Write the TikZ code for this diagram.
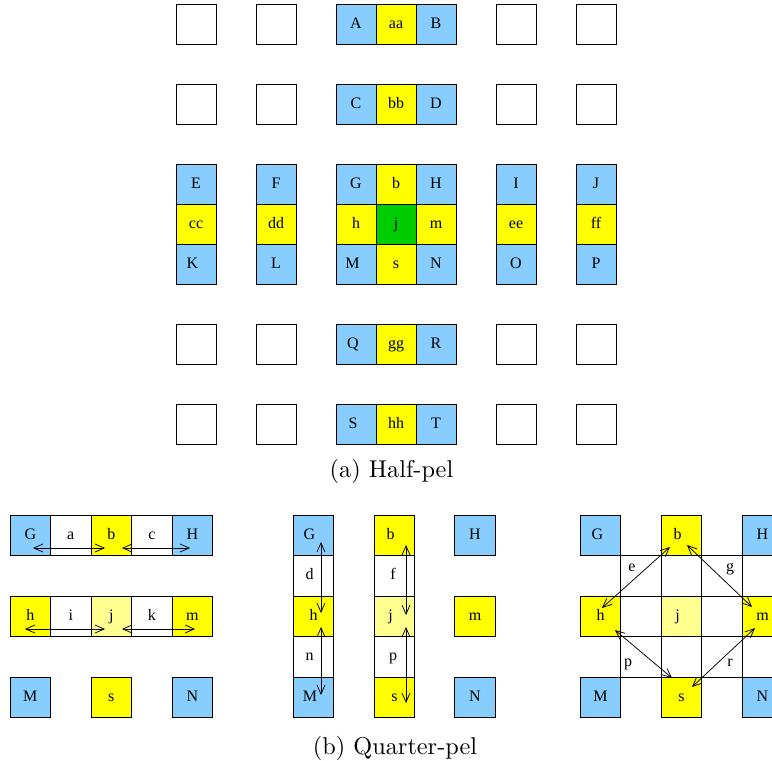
\documentclass[tikz,border=0pt]{standalone}
\usepackage{fontspec}
\newfontfamily\cellfont{Liberation Serif}
\newfontfamily\captfont[Extension=.otf]{lmroman10-regular}
\usetikzlibrary{arrows.meta}
\definecolor{ltblue}{HTML}{87CEFF}
\definecolor{yel}{HTML}{FFFF00}
\definecolor{grn}{HTML}{00CD00}
\definecolor{ltyel}{HTML}{FFFF90}
\begin{document}
\begin{tikzpicture}[x=1pt,y=-1pt,
  cell/.style={draw=black,line width=0.9pt,minimum size=40pt,inner sep=0pt,
    text height=11pt,text depth=3pt,
    font=\cellfont\fontsize{16}{19}\selectfont},
  wcell/.style={cell,fill=white},
  bcell/.style={cell,fill=ltblue},
  ycell/.style={cell,fill=yel},
  gcell/.style={cell,fill=grn},
  lycell/.style={cell,fill=ltyel},
  small/.style={minimum size=40.5pt},
  lbl/.style={inner sep=0pt,text height=11pt,text depth=3pt,font=\cellfont\fontsize{16}{19}\selectfont},
  capt/.style={inner sep=0pt,font=\captfont\fontsize{24.3}{29}\selectfont},
  dbl/.style={line width=0.75pt,
    {Straight Barb[length=9pt,width=8pt]}-{Straight Barb[length=9pt,width=8pt]}}]
\useasboundingbox (0,0) rectangle (772,761);
\clip (0,0) rectangle (772,761);

% ---------- (a) Half-pel ----------
\foreach \yy/\rn in {24/r1,104/r2,344/r4,424/r5}{
  \foreach \xx/\cn in {196/c1,276/c2,516/c6,596/c7}{
    \node[wcell] (e\rn\cn) at (\xx,\yy) {};
  }
}
\node[bcell] (A) at (356,24) {A};
\node[ycell] (aa) at (396,24) {aa};
\node[bcell] (B) at (436,24) {B};
\node[bcell] (C) at (356,104) {C};
\node[ycell] (bb) at (396,104) {bb};
\node[bcell] (D) at (436,104) {D};

\node[bcell] (E) at (196,184) {E};
\node[ycell] (cc) at (196,224) {cc};
\node[bcell] (K) at (196,264) {\hspace*{-7pt}K};
\node[bcell] (F) at (276,184) {F};
\node[ycell] (dd) at (276,224) {dd};
\node[bcell] (L) at (276,264) {L};
\node[bcell] (G) at (356,184) {G};
\node[ycell] (b) at (396,184) {b};
\node[bcell] (H) at (436,184) {H};
\node[ycell] (h) at (356,224) {h};
\node[gcell] (j) at (396,224) {j};
\node[ycell] (m) at (436,224) {m};
\node[bcell] (M) at (356,264) {\hspace*{-7pt}M};
\node[ycell] (s) at (396,264) {s};
\node[bcell] (N) at (436,264) {N};
\node[bcell] (I) at (516,184) {I};
\node[ycell] (ee) at (516,224) {ee};
\node[bcell] (O) at (516,264) {O};
\node[bcell] (J) at (596,184) {J};
\node[ycell] (ff) at (596,224) {ff};
\node[bcell] (P) at (596,264) {P};

\node[bcell] (Q) at (356,344) {\hspace*{-6pt}Q};
\node[ycell] (gg) at (396,344) {gg};
\node[bcell] (R) at (436,344) {R};
\node[bcell] (S) at (356,424) {\hspace*{-6pt}S};
\node[ycell] (hh) at (396,424) {hh};
\node[bcell] (T) at (436,424) {T};

\node[capt] (capa) at (391.5,471) {(a) Half-pel};

% ---------- (b) Quarter-pel, left ----------
\node[bcell,small] (G1) at (30.3,535.3) {G};
\node[wcell,small] (a1) at (70.8,535.3) {a};
\node[ycell,small] (b1) at (111.3,535.3) {b};
\node[wcell,small] (c1) at (151.8,535.3) {c};
\node[bcell,small] (H1) at (192.3,535.3) {H};
\node[ycell,small] (h1) at (30.3,616.3) {h};
\node[wcell,small] (i1) at (70.8,616.3) {i};
\node[lycell,small] (j1) at (111.3,616.3) {j};
\node[wcell,small] (k1) at (151.8,616.3) {k};
\node[ycell,small] (m1) at (192.3,616.3) {m};
\node[bcell,small] (M1) at (30.3,697.3) {M};
\node[ycell,small] (s1) at (111.3,697.3) {s};
\node[bcell,small] (N1) at (192.3,697.3) {N};

\draw[dbl] ([shift={(2.7,12.7)}]G1.center) -- ([shift={(-6.3,12.7)}]b1.center);
\draw[dbl] ([shift={(10.7,12.7)}]b1.center) -- ([shift={(-2.3,12.7)}]H1.center);
\draw[dbl] ([shift={(-5.3,12.7)}]h1.center) -- ([shift={(-6.3,12.7)}]j1.center);
\draw[dbl] ([shift={(10.7,12.7)}]j1.center) -- ([shift={(2.7,12.7)}]m1.center);

% ---------- (b) Quarter-pel, middle ----------
\node[bcell,small] (G2) at (313.5,535.3) {\hspace*{-8pt}G};
\node[wcell,small] (d2) at (313.5,575.8) {\hspace*{-8pt}d};
\node[ycell,small] (h2) at (313.5,616.3) {h};
\node[wcell,small] (n2) at (313.5,656.8) {\hspace*{-8pt}n};
\node[bcell,small] (M2) at (313.5,697.3) {\hspace*{-7pt}M};
\node[ycell,small] (b2) at (394.5,535.3) {\hspace*{-8pt}b};
\node[wcell,small] (f2) at (394.5,575.8) {\hspace*{-3pt}f};
\node[lycell,small] (j2) at (394.5,616.3) {\hspace*{-8pt}j};
\node[wcell,small] (p2) at (394.5,656.8) {\hspace*{-3pt}p};
\node[ycell,small] (s2) at (394.5,697.3) {s};
\node[bcell,small] (H2) at (475,535.3) {H};
\node[ycell,small] (m2) at (475,616.3) {m};
\node[bcell,small] (N2) at (475,697.3) {N};

\draw[dbl] ([shift={(7.5,6.7)}]G2.center) -- ([shift={(7.5,-3.3)}]h2.center);
\draw[dbl] ([shift={(7.5,10.7)}]h2.center) -- ([shift={(7.5,-2.3)}]M2.center);
\draw[dbl] ([shift={(11.5,9.7)}]b2.center) -- ([shift={(11.5,-1.3)}]j2.center);
\draw[dbl] ([shift={(11.5,10.7)}]j2.center) -- ([shift={(11.5,5.7)}]s2.center);

% ---------- (b) Quarter-pel, right ----------
\node[bcell,small] (G3) at (600.5,535.3) {\hspace*{-6pt}G};
\node[ycell,small] (b3) at (681.5,535.3) {\hspace*{-8pt}b};
\node[bcell,small] (H3) at (762.5,535.3) {H};
\node[wcell,small] (x21) at (641,575.8) {};
\node[wcell,small] (x22) at (681.5,575.8) {};
\node[wcell,small] (x23) at (722,575.8) {};
\node[ycell,small] (h3) at (600.5,616.3) {h};
\node[wcell,small] (x31) at (641,616.3) {};
\node[lycell,small] (j3) at (681.5,616.3) {\hspace*{-8pt}j};
\node[wcell,small] (x33) at (722,616.3) {};
\node[ycell,small] (m3) at (762.5,616.3) {m};
\node[wcell,small] (x41) at (641,656.8) {};
\node[wcell,small] (x42) at (681.5,656.8) {};
\node[wcell,small] (x43) at (722,656.8) {};
\node[bcell,small] (M3) at (600.5,697.3) {M};
\node[ycell,small] (s3) at (681.5,697.3) {s};
\node[bcell,small] (N3) at (762.5,697.3) {N};

\node[lbl] (le) at (632,567) {e};
\node[lbl] (lg) at (730,567) {g};
\node[lbl] (lp) at (628,662) {p};
\node[lbl] (lr) at (730,662) {r};

\draw[dbl] ([shift={(-11.5,11.7)}]b3.center) -- ([shift={(1.5,-8.3)}]h3.center);
\draw[dbl] ([shift={(5.5,9.7)}]b3.center) -- ([shift={(-10.5,-9.3)}]m3.center);
\draw[dbl] ([shift={(14.5,13.7)}]h3.center) -- ([shift={(-9.5,-19.3)}]s3.center);
\draw[dbl] ([shift={(-7.5,11.7)}]m3.center) -- ([shift={(10.5,-10.3)}]s3.center);

\node[capt] (capb) at (395,748) {(b) Quarter-pel};
\end{tikzpicture}
\end{document}
